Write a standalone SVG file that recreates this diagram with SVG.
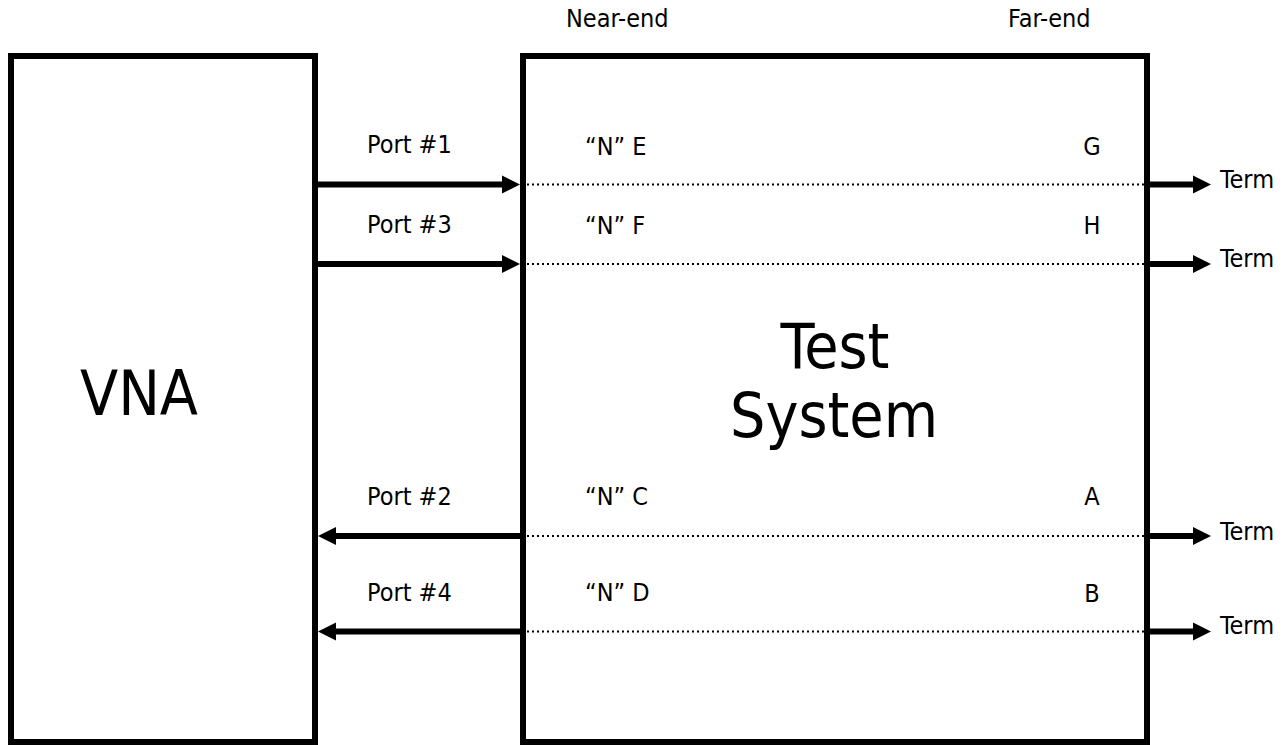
<svg xmlns="http://www.w3.org/2000/svg" width="1287" height="745" viewBox="0 0 1287 745">
  <style>
    .box { fill: #fff; stroke: #000; stroke-width: 6; }
    .wire { stroke: #000; stroke-width: 6; fill: none; }
    .dot { stroke: #000; stroke-width: 2.2; stroke-dasharray: 2 3; fill: none; }
    .head { fill: #000; }
    text { font-family: "DejaVu Sans Condensed", "DejaVu Sans", sans-serif; fill: #000; }
    .lbl { font-size: 25px; }
    .big { font-size: 62px; }
  </style>
  <rect width="1287" height="745" fill="#fff"/>

  <g id="header">
    <text class="lbl" x="566" y="27">Near-end</text>
    <text class="lbl" x="1008" y="27">Far-end</text>
  </g>

  <g id="vna">
    <rect class="box" x="11" y="56" width="304" height="686"/>
    <text class="big" x="139" y="415" text-anchor="middle">VNA</text>
  </g>

  <g id="test-system">
    <rect class="box" x="523" y="56" width="624" height="686"/>
    <text class="big" x="835" y="368" text-anchor="middle">Test</text>
    <text class="big" x="834" y="437" text-anchor="middle">System</text>
    <text class="lbl" x="585" y="155">“N” E</text>
    <text class="lbl" x="585" y="234">“N” F</text>
    <text class="lbl" x="585" y="505">“N” C</text>
    <text class="lbl" x="585" y="601">“N” D</text>
    <text class="lbl" x="1092" y="155" text-anchor="middle">G</text>
    <text class="lbl" x="1092" y="234" text-anchor="middle">H</text>
    <text class="lbl" x="1092" y="505" text-anchor="middle">A</text>
    <text class="lbl" x="1092" y="602" text-anchor="middle">B</text>
  </g>

  <g id="port-labels">
    <text class="lbl" x="367" y="153">Port #1</text>
    <text class="lbl" x="367" y="233">Port #3</text>
    <text class="lbl" x="367" y="505">Port #2</text>
    <text class="lbl" x="367" y="601">Port #4</text>
  </g>

  <g id="terms">
    <text class="lbl" x="1220" y="188">Term</text>
    <text class="lbl" x="1220" y="267">Term</text>
    <text class="lbl" x="1220" y="540">Term</text>
    <text class="lbl" x="1220" y="634">Term</text>
  </g>

  <g id="connectors">
    <!-- Port #1 -->
    <line class="wire" x1="318" y1="184.5" x2="503" y2="184.5"/>
    <polygon class="head" points="502,175.5 520,184.5 502,193.5"/>
    <line class="dot" x1="527" y1="184.5" x2="1144" y2="184.5"/>
    <line class="wire" x1="1150" y1="184.5" x2="1194" y2="184.5"/>
    <polygon class="head" points="1193,175.5 1211,184.5 1193,193.5"/>
    <!-- Port #3 -->
    <line class="wire" x1="318" y1="264" x2="503" y2="264"/>
    <polygon class="head" points="502,255 520,264 502,273"/>
    <line class="dot" x1="527" y1="264" x2="1144" y2="264"/>
    <line class="wire" x1="1150" y1="264" x2="1194" y2="264"/>
    <polygon class="head" points="1193,255 1211,264 1193,273"/>
    <!-- Port #2 -->
    <line class="wire" x1="335" y1="536" x2="520" y2="536"/>
    <polygon class="head" points="336,527 318,536 336,545"/>
    <line class="dot" x1="527" y1="536" x2="1144" y2="536"/>
    <line class="wire" x1="1150" y1="536" x2="1194" y2="536"/>
    <polygon class="head" points="1193,527 1211,536 1193,545"/>
    <!-- Port #4 -->
    <line class="wire" x1="335" y1="631.5" x2="520" y2="631.5"/>
    <polygon class="head" points="336,622.5 318,631.5 336,640.5"/>
    <line class="dot" x1="527" y1="631.5" x2="1144" y2="631.5"/>
    <line class="wire" x1="1150" y1="631.5" x2="1194" y2="631.5"/>
    <polygon class="head" points="1193,622.5 1211,631.5 1193,640.5"/>
  </g>
</svg>
